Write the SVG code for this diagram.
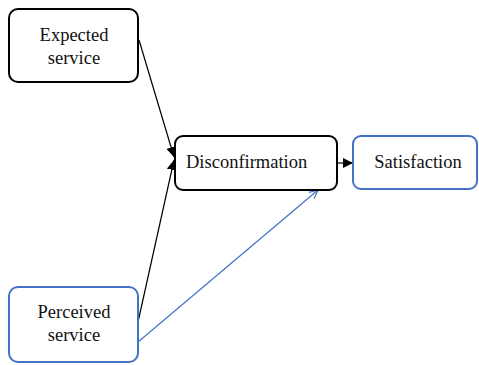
<svg xmlns="http://www.w3.org/2000/svg" width="479" height="365" viewBox="0 0 479 365">
  <style>
    .box { fill: #ffffff; stroke-width: 2; }
    .dark { stroke: #000000; }
    .blue { stroke: #4472C4; }
    .label { font-family: 'Liberation Serif', 'DejaVu Serif', 'Times New Roman', serif; font-size: 18.5px; fill: #111111; }
    .mid { text-anchor: middle; }
    .link { fill: none; stroke-width: 1.2; }
  </style>
  <defs>
    <marker id="solid" viewBox="0 0 10 10" refX="10" refY="5" markerWidth="10" markerHeight="10" markerUnits="userSpaceOnUse" orient="auto">
      <path d="M0,0 L10,5 L0,10 Z" fill="#000000"/>
    </marker>
    <marker id="open" viewBox="0 0 10 10" refX="9.5" refY="5" markerWidth="10" markerHeight="10" markerUnits="userSpaceOnUse" orient="auto">
      <path d="M1,1 L9.5,5 L1,9" fill="none" stroke="#4472C4" stroke-width="1.2"/>
    </marker>
  </defs>

  <rect width="479" height="365" fill="#ffffff"/>

  <g id="connectors">
    <line class="link" stroke="#000000" x1="139" y1="40" x2="174" y2="157" marker-end="url(#solid)"/>
    <line class="link" stroke="#000000" x1="138" y1="322" x2="174" y2="160" marker-end="url(#solid)"/>
    <line class="link" stroke="#4472C4" x1="138" y1="342" x2="318" y2="190" marker-end="url(#open)"/>
    <line class="link" stroke="#000000" x1="337" y1="163" x2="353" y2="163" marker-end="url(#solid)"/>
  </g>

  <g id="expected-service">
    <rect class="box dark" x="9" y="9" width="129" height="73" rx="9"/>
    <text class="label mid" x="74" y="41">Expected</text>
    <text class="label mid" x="74" y="64">service</text>
  </g>

  <g id="perceived-service">
    <rect class="box blue" x="9" y="287" width="129" height="75" rx="9"/>
    <text class="label mid" x="74" y="318">Perceived</text>
    <text class="label mid" x="74" y="341">service</text>
  </g>

  <g id="disconfirmation">
    <rect class="box dark" x="175" y="136" width="162" height="54" rx="8"/>
    <text class="label" x="186" y="168">Disconfirmation</text>
  </g>

  <g id="satisfaction">
    <rect class="box blue" x="353" y="136" width="124" height="53" rx="8"/>
    <text class="label mid" x="418" y="168">Satisfaction</text>
  </g>
</svg>
